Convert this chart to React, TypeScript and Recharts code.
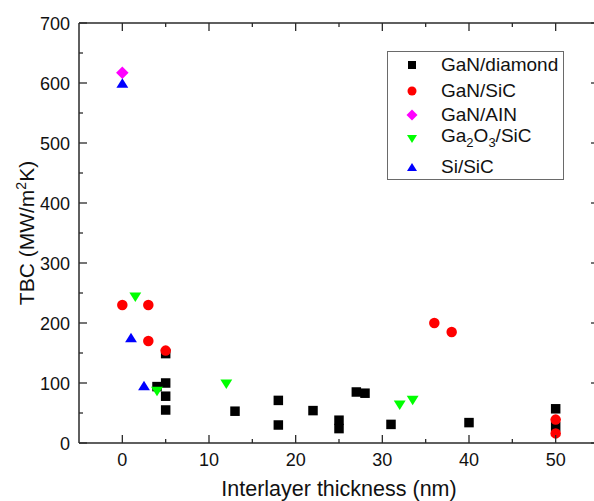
import React from 'react';
import { ScatterChart, Scatter, XAxis, YAxis, Legend } from 'recharts';

// tick values
const xTicks = [0, 5, 10, 15, 20, 25, 30, 35, 40, 45, 50];
const xLabelTicks = [0, 10, 20, 30, 40, 50];
const yTicks = [0, 50, 100, 150, 200, 250, 300, 350, 400, 450, 500, 550, 600, 650, 700];
const yLabelTicks = [0, 100, 200, 300, 400, 500, 600, 700];

// series values
const ganDiamondX = [4, 5, 5, 5, 5, 13, 18, 18, 22, 25, 25, 27, 28, 31, 40, 50, 50];
const ganDiamondY = [94, 149, 100, 78, 55, 53, 71, 30, 54, 38, 24, 85, 83, 31, 34, 57, 27];
const ganSiCX = [0, 3, 3, 5, 36, 38, 50, 50];
const ganSiCY = [230, 230, 170, 154, 200, 185, 39, 16];
const ganAlnX = [0];
const ganAlnY = [617];
const ga2o3X = [1.5, 4, 12, 32, 33.5];
const ga2o3Y = [243, 86, 98, 63, 71];
const siSiCX = [0, 1, 2.5];
const siSiCY = [600, 176, 96];

const zip = (xs: number[], ys: number[]) => xs.map((x, i) => ({ x, y: ys[i] }));

const FONT = '"Liberation Sans", Arial, sans-serif';
const AXIS = '#2a2a2a';
const TEXT = '#111';

// layout: the plot box runs past the right edge of the window, like the original
const CHART_W = 594;
const CHART_H = 501;
const MARGIN = { top: 23, right: -5, bottom: 0, left: 0 };
const PLOT_TOP = MARGIN.top;
const PLOT_RIGHT = CHART_W - MARGIN.right;
const TICK_MAJOR = 8;
const TICK_MINOR = 4;

type Marker = 'square' | 'circle' | 'diamond' | 'down' | 'up';

function drawMarker(kind: Marker, cx: number, cy: number, color: string, s: number) {
  const h = s / 2;
  if (kind === 'square') return <rect x={cx - h} y={cy - h} width={s} height={s} fill={color} />;
  if (kind === 'circle') return <circle cx={cx} cy={cy} r={h + 0.5} fill={color} />;
  if (kind === 'diamond')
    return <polygon points={`${cx},${cy - h - 1.5} ${cx + h + 1.5},${cy} ${cx},${cy + h + 1.5} ${cx - h - 1.5},${cy}`} fill={color} />;
  const w = h * 1.25;
  const t = h;
  if (kind === 'down') return <polygon points={`${cx - w},${cy - t} ${cx + w},${cy - t} ${cx},${cy + t}`} fill={color} />;
  return <polygon points={`${cx - w},${cy + t} ${cx + w},${cy + t} ${cx},${cy - t}`} fill={color} />;
}

const series: { name: React.ReactNode; key: string; data: { x: number; y: number }[]; color: string; marker: Marker; size: number }[] = [
  { name: 'GaN/diamond', key: 'gd', data: zip(ganDiamondX, ganDiamondY), color: '#000000', marker: 'square', size: 9.5 },
  { name: 'GaN/SiC', key: 'gs', data: zip(ganSiCX, ganSiCY), color: '#ff0000', marker: 'circle', size: 9.5 },
  { name: 'GaN/AIN', key: 'ga', data: zip(ganAlnX, ganAlnY), color: '#ff00ff', marker: 'diamond', size: 9.5 },
  {
    name: (
      <span>
        Ga<sub style={{ fontSize: 13 }}>2</sub>O<sub style={{ fontSize: 13 }}>3</sub>/SiC
      </span>
    ),
    key: 'go',
    data: zip(ga2o3X, ga2o3Y),
    color: '#00ff00',
    marker: 'down',
    size: 9.5,
  },
  { name: 'Si/SiC', key: 'ss', data: zip(siSiCX, siSiCY), color: '#0000ff', marker: 'up', size: 9.5 },
];

const legendRowCenters = [13, 38.5, 62.5, 87, 114.5];

function LegendBox() {
  return (
    <div
      style={{
        position: 'relative',
        width: 177,
        height: 129,
        boxSizing: 'border-box',
        border: '1px solid #6a6a6a',
        background: '#fff',
        fontFamily: FONT,
        fontSize: 19,
        color: TEXT,
      }}
    >
      {series.map((s, i) => (
        <div
          key={s.key}
          style={{ position: 'absolute', left: 0, top: legendRowCenters[i] - 13, height: 26, display: 'flex', alignItems: 'center', whiteSpace: 'nowrap' }}
        >
          <svg width={50} height={26} style={{ display: 'block' }}>
            {drawMarker(s.marker, 24, 13, s.color, 8)}
          </svg>
          <span style={{ marginLeft: 3, lineHeight: '26px' }}>{s.name}</span>
        </div>
      ))}
    </div>
  );
}

// bottom ticks, plus the mirrored ticks on the top edge of the frame
function BottomTick(props: any) {
  const { x, y, payload } = props;
  const v = payload.value;
  const major = xLabelTicks.includes(v);
  const len = major ? TICK_MAJOR : TICK_MINOR;
  return (
    <g>
      <line x1={x} x2={x} y1={y} y2={y - len} stroke={AXIS} strokeWidth={1.3} />
      <line x1={x} x2={x} y1={PLOT_TOP} y2={PLOT_TOP + len} stroke={AXIS} strokeWidth={1.3} />
      {major && (
        <text x={x} y={y + 23} textAnchor="middle" fontSize={18} fontFamily={FONT} fill={TEXT}>
          {v}
        </text>
      )}
    </g>
  );
}

// left ticks, the mirrored right ticks, and the top frame line at the last tick
function LeftTick(props: any) {
  const { x, y, payload } = props;
  const v = payload.value;
  const major = yLabelTicks.includes(v);
  const len = major ? TICK_MAJOR : TICK_MINOR;
  return (
    <g>
      <line x1={x} x2={x + len} y1={y} y2={y} stroke={AXIS} strokeWidth={1.3} />
      <line x1={PLOT_RIGHT - len} x2={PLOT_RIGHT} y1={y} y2={y} stroke={AXIS} strokeWidth={1.3} />
      {v === yTicks[yTicks.length - 1] && <line x1={x} x2={PLOT_RIGHT} y1={y} y2={y} stroke={AXIS} strokeWidth={1.5} />}
      {major && (
        <text x={x - 9} y={y + 6.5} textAnchor="end" fontSize={18} fontFamily={FONT} fill={TEXT}>
          {v}
        </text>
      )}
    </g>
  );
}

export default function App() {
  return (
    <div style={{ position: 'fixed', left: 0, top: 0, width: 594, height: 501, overflow: 'hidden', background: '#fff' }}>
      <ScatterChart width={CHART_W} height={CHART_H} margin={MARGIN}>
        <XAxis
          type="number"
          dataKey="x"
          domain={[-5, 55]}
          allowDataOverflow
          ticks={xTicks}
          interval={0}
          height={58}
          tickSize={0}
          tickMargin={0}
          tickLine={false}
          tick={BottomTick}
          axisLine={{ stroke: AXIS, strokeWidth: 1.5 }}
        />
        <YAxis
          type="number"
          dataKey="y"
          domain={[0, 700]}
          allowDataOverflow
          ticks={yTicks}
          interval={0}
          width={79}
          tickSize={0}
          tickMargin={0}
          tickLine={false}
          tick={LeftTick}
          axisLine={{ stroke: AXIS, strokeWidth: 1.5 }}
        />
        {series.map((s) => (
          <Scatter
            key={s.key}
            data={s.data}
            fill={s.color}
            isAnimationActive={false}
            shape={(p: any) => drawMarker(s.marker, p.cx, p.cy, s.color, s.size)}
          />
        ))}
        <Legend
          layout="vertical"
          align="center"
          verticalAlign="middle"
          wrapperStyle={{ top: 51, left: 387, width: 177, height: 129 }}
          content={() => <LegendBox />}
        />
      </ScatterChart>
      <svg width={594} height={501} style={{ position: 'absolute', left: 0, top: 0, pointerEvents: 'none' }}>
        <text x={339} y={496} textAnchor="middle" fontSize={21.5} fontFamily={FONT} fill={TEXT}>
          Interlayer thickness (nm)
        </text>
        <text transform="translate(33.5,233) rotate(-90)" textAnchor="middle" fontSize={21} fontFamily={FONT} fill={TEXT}>
          TBC (MW/m<tspan dy={-8} fontSize={14}>2</tspan>
          <tspan dy={8}>K)</tspan>
        </text>
      </svg>
    </div>
  );
}
